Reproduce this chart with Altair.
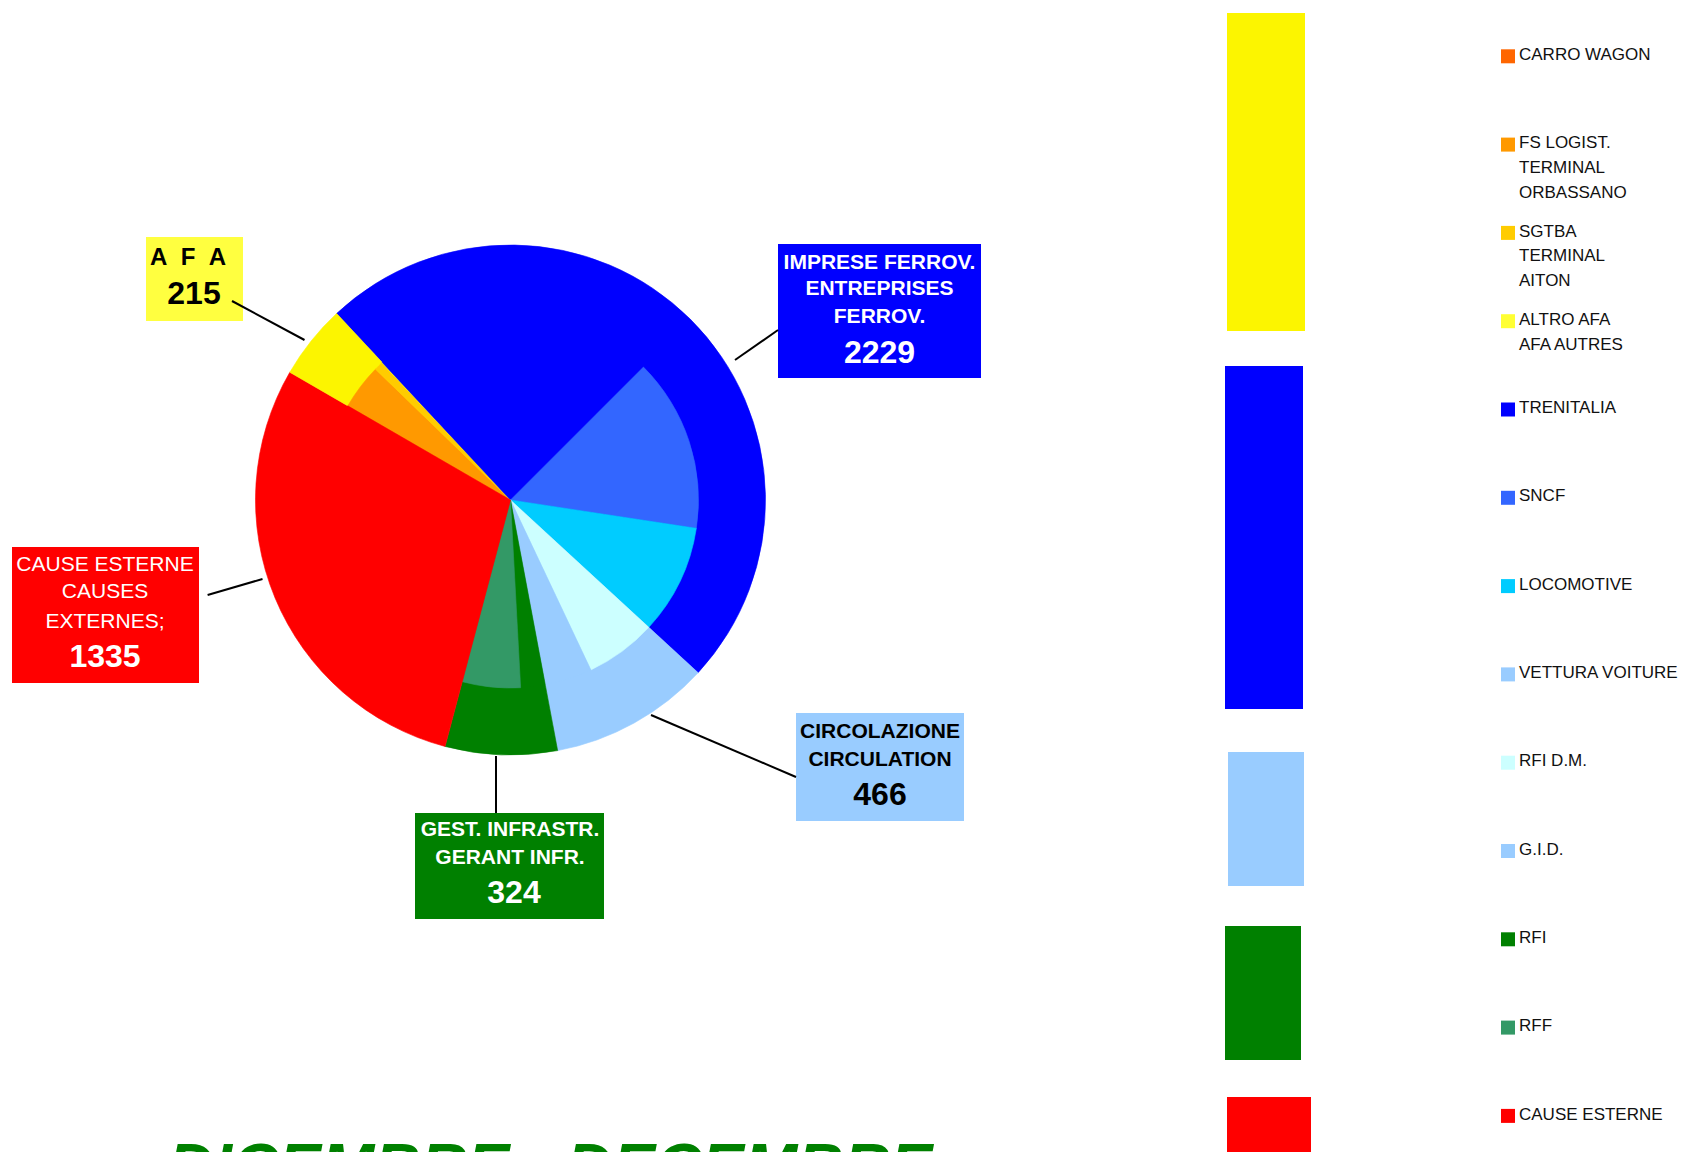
import math
import altair as alt
import pandas as pd

# ---------------- data ----------------
main_cats = ["IMPRESE FERROV.", "CIRCOLAZIONE", "GEST. INFRASTR.", "CAUSE ESTERNE", "AFA"]
main_lines = [["IMPRESE FERROV.", "ENTREPRISES", "FERROV."],
              ["CIRCOLAZIONE", "CIRCULATION"],
              ["GEST. INFRASTR.", "GERANT INFR."],
              ["CAUSE ESTERNE", "CAUSES", "EXTERNES;"],
              ["A\u00a0\u00a0F\u00a0\u00a0A"]]
main_values = [2229, 466, 324, 1335, 215]
main_colors = ["#0000FF", "#99CCFF", "#008000", "#FF0000", "#FCF500"]

sub_labels = ["CARRO WAGON", "FS LOGIST.\nTERMINAL\nORBASSANO", "SGTBA\nTERMINAL\nAITON",
              "ALTRO AFA\nAFA AUTRES", "TRENITALIA", "SNCF", "LOCOMOTIVE", "VETTURA VOITURE",
              "RFI D.M.", "G.I.D.", "RFI", "RFF", "CAUSE ESTERNE"]
sub_values = [0, 178, 35, 2, 1117, 681, 431, 0, 280, 186, 96, 228, 1335]
sub_colors = ["#FF6600", "#FF9900", "#FFCC00", "#FFFF33", "#0000FF", "#3366FF", "#00CCFF",
              "#99CCFF", "#CCFFFF", "#99CCFF", "#008000", "#339966", "#FF0000"]

title_text = "DICEMBRE - DECEMBRE"

# ---------------- layout ----------------
OFF = 8
W, H = 1687 - 2 * OFF, 1160 - 2 * OFF


def px(v):
    return v - OFF


CX, CY = px(510.5), px(500)
R_OUT, R_IN = 255, 188
START = math.radians(317)
TOTAL = sum(main_values)
theta_scale = alt.Scale(domain=[0, TOTAL], range=[START, START + 2 * math.pi])

FONT = "Liberation Sans"
LEG_FONT = "Liberation Sans"

layers = []

# outer pie (main categories)
df_main = pd.DataFrame({"cat": main_cats, "val": main_values, "color": main_colors,
                        "ord": list(range(len(main_cats)))})
layers.append(
    alt.Chart(df_main).mark_arc(radius=R_OUT, strokeWidth=0.6).encode(
        theta=alt.Theta("val:Q", stack=True, scale=theta_scale),
        order=alt.Order("ord:Q"),
        color=alt.Color("color:N", scale=None),
        stroke=alt.Stroke("color:N", scale=None),
        x=alt.value(CX), y=alt.value(CY),
    ).transform_filter("datum.val > 0")
)

# inner pie (sub categories), starting with TRENITALIA
n = len(sub_labels)
df_sub = pd.DataFrame({"cat": sub_labels, "val": sub_values, "color": sub_colors,
                       "ord": [(i - 4) % n for i in range(n)]})
layers.append(
    alt.Chart(df_sub).transform_filter("datum.val > 0").mark_arc(radius=R_IN, strokeWidth=0.6).encode(
        theta=alt.Theta("val:Q", stack=True, scale=theta_scale),
        order=alt.Order("ord:Q"),
        color=alt.Color("color:N", scale=None),
        stroke=alt.Stroke("color:N", scale=None),
        x=alt.value(CX), y=alt.value(CY),
    )
)

# decorative colour blocks on the right (AFA, IMPRESE, CIRC, GEST, CAUSE)
block_order = [4, 0, 1, 2, 3]
block_pos = [(1227, 13, 1305, 331), (1225, 366, 1303, 709), (1228, 752, 1304, 886),
             (1225, 926, 1301, 1060), (1227, 1097, 1311, 1175)]
for ci, (x0, y0, x1, y1) in zip(block_order, block_pos):
    layers.append(
        alt.Chart(pd.DataFrame({"c": [main_colors[ci]]})).mark_rect().encode(
            color=alt.Color("c:N", scale=None),
            x=alt.value(px(x0)), x2=alt.value(px(x1)),
            y=alt.value(px(y0)), y2=alt.value(px(y1)),
        )
    )

# label boxes
box_colors = {0: "#0000FF", 1: "#99CCFF", 2: "#008000", 3: "#FF0000", 4: "#FFFF40"}
box_pos = {0: (778, 244, 981, 378), 1: (796, 713, 964, 821), 2: (415, 813, 604, 919),
           3: (12, 547, 199, 683), 4: (146, 237, 243, 321)}
leader_pos = {0: (735, 360, 778, 330), 1: (651, 715, 796, 777), 2: (496, 756, 496, 813),
              3: (207.6, 595, 262.5, 579), 4: (232, 301, 304.5, 340)}
for k in range(5):
    x0, y0, x1, y1 = box_pos[k]
    layers.append(
        alt.Chart(pd.DataFrame({"c": [box_colors[k]]})).mark_rect().encode(
            color=alt.Color("c:N", scale=None),
            x=alt.value(px(x0)), x2=alt.value(px(x1)),
            y=alt.value(px(y0)), y2=alt.value(px(y1)),
        )
    )
    a, b, c, d = leader_pos[k]
    layers.append(
        alt.Chart(pd.DataFrame({"k": [k]})).mark_rule(color="black", strokeWidth=2).encode(
            x=alt.value(px(a)), y=alt.value(px(b)), x2=alt.value(px(c)), y2=alt.value(px(d)),
        )
    )

# label texts: (centre x, line y's, number y, number x, text colour, bold lines, size)
label_text_pos = {
    0: (879.5, [262.5, 289.4, 317.4], 353, 879.5, "white", True, 21),
    1: (880, [731.6, 759.6], 795, 880, "black", True, 21),
    2: (510, [829.5, 857.5], 893, 514, "white", True, 21),
    3: (105, [565, 592, 622], 657, 105, "white", False, 21),
    4: (188, [258.3], 294, 194, "black", True, 24),
}
for k in range(5):
    cx, ys, ny, nx, col, bold, fs = label_text_pos[k]
    for line, yy in zip(main_lines[k], ys):
        layers.append(
            alt.Chart(pd.DataFrame({"t": [line]})).mark_text(
                font=FONT, fontSize=fs, fontWeight="bold" if bold else "normal",
                color=col, align="center", baseline="middle",
            ).encode(text="t:N", x=alt.value(px(cx)), y=alt.value(px(yy)))
        )
    layers.append(
        alt.Chart(pd.DataFrame({"t": [str(main_values[k])]})).mark_text(
            font=FONT, fontSize=32, fontWeight="bold", color=col, align="center", baseline="middle",
        ).encode(text="t:N", x=alt.value(px(nx)), y=alt.value(px(ny)))
    )

# legend
LEG_STEP, LINE_STEP = 88.3, 24.7
leg_rows = []
for i, lab in enumerate(sub_labels):
    for j, line in enumerate(lab.split("\n")):
        leg_rows.append({"idx": i, "pos": i * LEG_STEP + j * LINE_STEP, "t": line})
df_leg_text = pd.DataFrame(leg_rows)
df_leg_sq = pd.DataFrame({"idx": list(range(n)), "pos": [i * LEG_STEP + 1.4 for i in range(n)],
                          "color": sub_colors})
y_leg = alt.Y("pos:Q", scale=alt.Scale(domain=[0, 1000], range=[px(54.9), px(1054.9)]), axis=None)
layers.append(
    alt.Chart(df_leg_sq).mark_square(size=196, opacity=1, filled=True).encode(
        x=alt.value(px(1508)), y=y_leg, color=alt.Color("color:N", scale=None)
    )
)
layers.append(
    alt.Chart(df_leg_text).mark_text(
        font=LEG_FONT, fontSize=17, color="#111111", align="left", baseline="middle"
    ).encode(x=alt.value(px(1519)), y=y_leg, text="t:N")
)

# bottom title (cut off by the page edge, as in the reference)
layers.append(
    alt.Chart(pd.DataFrame({"t": [title_text]})).mark_text(
        font=FONT, fontSize=64, fontWeight="bold", fontStyle="italic", color="#008000",
        align="left", baseline="alphabetic",
    ).encode(text="t:N", x=alt.value(px(168)), y=alt.value(px(1189)))
)

chart = alt.layer(*layers).properties(
    width=W, height=H, autosize=alt.AutoSizeParams(type="none"), padding=0
).configure_view(stroke=None)

chart.save("out.html", embed_options={"renderer": "svg", "actions": False})
